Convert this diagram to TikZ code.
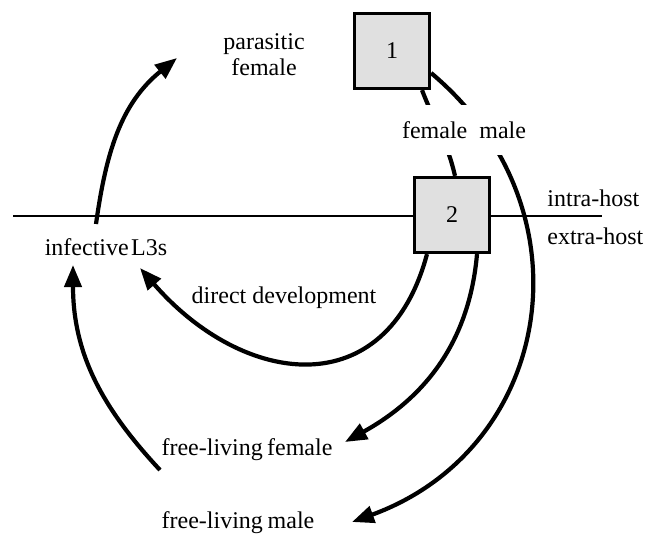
\documentclass[tikz,border=0pt]{standalone}
\usepackage{fontspec}
\setmainfont{Liberation Serif}
\usetikzlibrary{arrows.meta}
\definecolor{boxgray}{RGB}{224,224,224}
\begin{document}
\begin{tikzpicture}[x=0.5pt,y=0.5pt,
  lbl/.style={font=\fontsize{12}{13}\selectfont, inner sep=0pt},
  stagebox/.style={draw, line width=1.6pt, fill=boxgray, minimum width=37.5pt, minimum height=37.5pt, inner sep=0pt, font=\fontsize{12}{13}\selectfont},
  arr/.style={line width=2.1pt, -{Triangle[length=11pt,width=8.5pt]}},
  plain/.style={line width=2.1pt}]
\useasboundingbox (0,0) rectangle (658,-534);
% host boundary
\coordinate (lineL) at (13,-216);
\coordinate (lineR) at (602,-216);
\draw[line width=1.4pt] (lineL) -- (lineR);
% boxes
\node[stagebox] (b1) at (392,-51) {1};
\node[stagebox] (b2) at (452,-215) {2};
% labels
\node[lbl, align=center] (para) at (264,-55) {parasitic\\female};
\node[lbl] (inf) at (106,-247) {infective\hspace{0.1em}L3s};
\node[lbl] (dd) at (284,-298) {direct development};
\node[lbl] (flf) at (247,-450) {free-living\hspace{0.18em}female};
\node[lbl] (flm) at (238,-523) {free-living\hspace{0.2em}male};
\node[lbl, anchor=west] (intra) at (547,-198) {intra-host};
\node[lbl, anchor=west] (extra) at (547,-236) {extra-host};
% connector end points
\coordinate (c1s) at (96,-224);
\coordinate (c1e) at (177,-58);
\coordinate (c2s) at (160,-470);
\coordinate (c2e) at (73,-265);
\coordinate (c3e) at (140,-268);
\coordinate (c4e) at (345,-442);
\coordinate (c5e) at (352,-522);
% connectors
\draw[arr] (c1s) to[out=82,in=219] (c1e);
\draw[arr] (c2s) to[out=133,in=-90] (c2e);
\draw[arr] ([xshift=-12.5pt]b2.south) to[out=-105,in=-49,looseness=1.4] (c3e);
\draw[arr] ([xshift=12.5pt]b2.south) to[out=-95,in=29] (c4e);
\draw[arr] ([yshift=-11pt]b1.east) to[out=-40,in=20,looseness=1.2] (c5e);
\draw[plain] ([xshift=15pt]b1.south) to[out=-69,in=103] ([xshift=1.5pt]b2.north);
% sex label over the gap
\node[lbl, fill=white, inner xsep=3pt, minimum height=25pt] (fm) at (464,-130) {female\hspace{0.5em}male};
\end{tikzpicture}
\end{document}
